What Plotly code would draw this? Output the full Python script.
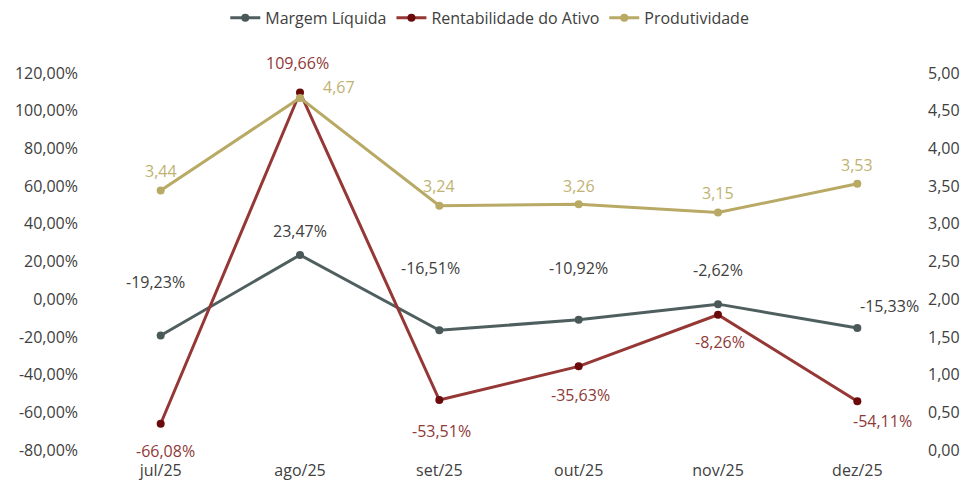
import plotly.graph_objects as go

# Monthly indicators
months = ["jul/25", "ago/25", "set/25", "out/25", "nov/25", "dez/25"]
margem_liquida = [-19.23, 23.47, -16.51, -10.92, -2.62, -15.33]
rentabilidade_ativo = [-66.08, 109.66, -53.51, -35.63, -8.26, -54.11]
produtividade = [3.44, 4.67, 3.24, 3.26, 3.15, 3.53]

left_ticks = [-80, -60, -40, -20, 0, 20, 40, 60, 80, 100, 120]
right_ticks = [0, 0.5, 1, 1.5, 2, 2.5, 3, 3.5, 4, 4.5, 5]

FONT = "Open Sans"
FS = 16

# label offsets in pixels (x, y) relative to each point, as placed in the original
margem_offsets = [(-5, -53), (0, -24), (-9, -62), (0, -52), (0, -34), (32, -22)]
rent_offsets = [(5, 27), (-3, -29), (2, 31), (2, 29), (2, 27), (25, 20)]
prod_offsets = [(0, -20), (39, -11), (0, -20), (0, -18), (0, -19), (0, -19)]


def fmt(v, pct=True):
    s = f"{v:.2f}".replace(".", ",")
    return s + "%" if pct else s


fig = go.Figure()

fig.add_trace(go.Scatter(
    x=months, y=margem_liquida, name="Margem Líquida", mode="lines+markers",
    line=dict(color="#4F5F5F", width=3),
    marker=dict(color="#4A5858", size=8),
))
fig.add_trace(go.Scatter(
    x=months, y=rentabilidade_ativo, name="Rentabilidade do Ativo", mode="lines+markers",
    line=dict(color="#953735", width=3),
    marker=dict(color="#6B0A0A", size=8),
))
fig.add_trace(go.Scatter(
    x=months, y=produtividade, name="Produtividade", mode="lines+markers",
    line=dict(color="#B8A965", width=3),
    marker=dict(color="#B8A965", size=8),
    yaxis="y2",
))

annotations = []
for m, v, (dx, dy) in zip(months, margem_liquida, margem_offsets):
    annotations.append(dict(x=m, y=v, yref="y", text=fmt(v), showarrow=False,
                            xshift=dx, yshift=-dy, font=dict(color="#404040", size=FS, family=FONT)))
for m, v, (dx, dy) in zip(months, rentabilidade_ativo, rent_offsets):
    annotations.append(dict(x=m, y=v, yref="y", text=fmt(v), showarrow=False,
                            xshift=dx, yshift=-dy, font=dict(color="#8E3A38", size=FS, family=FONT)))
for m, v, (dx, dy) in zip(months, produtividade, prod_offsets):
    annotations.append(dict(x=m, y=v, yref="y2", text=fmt(v, pct=False), showarrow=False,
                            xshift=dx, yshift=-dy, font=dict(color="#BFB272", size=FS, family=FONT)))

# page has an 8px body margin, so the figure is a bit smaller than the window
fig.update_layout(
    width=965, height=472,
    margin=dict(l=83, r=46, t=65, b=30),
    plot_bgcolor="white", paper_bgcolor="white",
    separators=",.",
    font=dict(family=FONT, size=FS, color="#404040"),
    showlegend=True,
    legend=dict(orientation="h", x=0.477, xanchor="center", y=0.979, yanchor="middle",
                yref="container", font=dict(size=FS, color="#404040")),
    xaxis=dict(showgrid=False, zeroline=False, showline=False, ticks="",
               range=[-0.5, 5.5], tickfont=dict(size=FS), ticklabelstandoff=9,
               automargin=False),
    yaxis=dict(range=[-80, 120], tickvals=left_ticks,
               ticktext=[fmt(v) for v in left_ticks], ticklabelstandoff=12,
               showgrid=False, zeroline=False, showline=False, tickfont=dict(size=FS),
               automargin=False),
    yaxis2=dict(range=[0, 5], tickvals=right_ticks,
                ticktext=[fmt(v, pct=False) for v in right_ticks], overlaying="y",
                side="right", showgrid=False, zeroline=False, showline=False,
                tickfont=dict(size=FS), automargin=False),
    annotations=annotations,
)

fig.write_html("out.html")
